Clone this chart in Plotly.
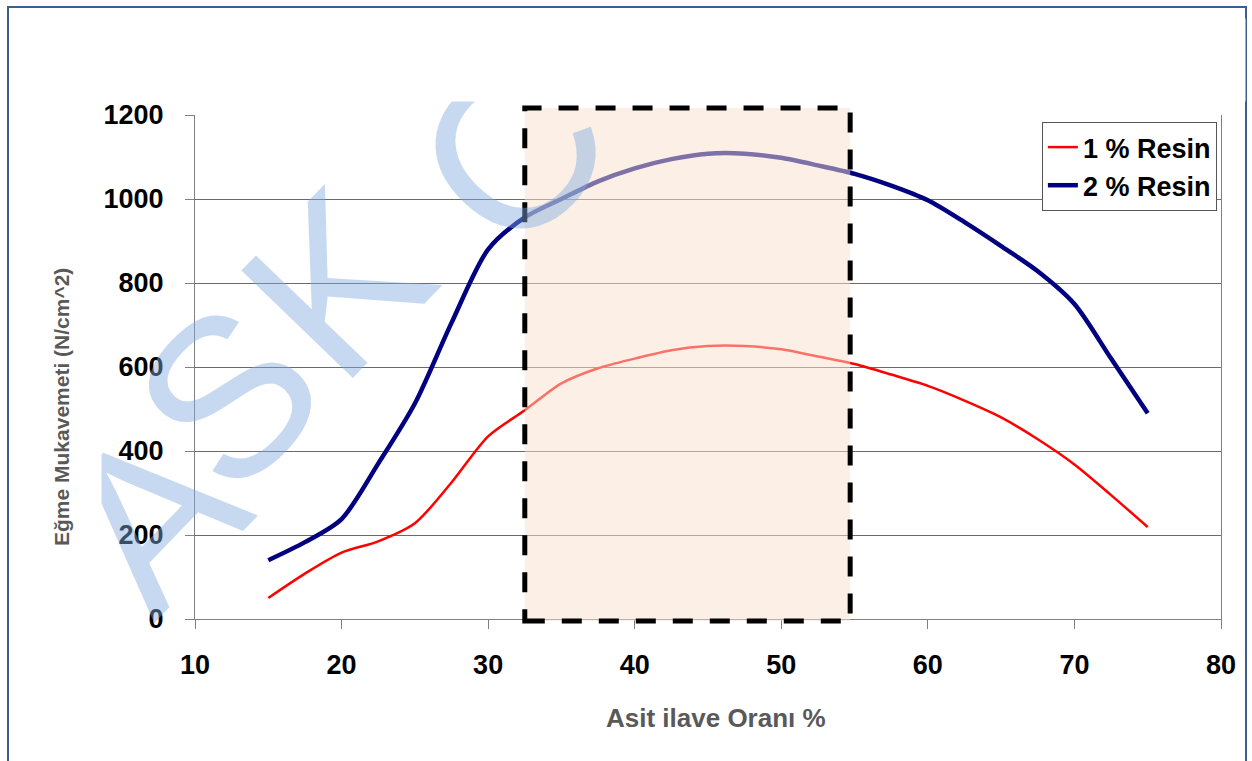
import plotly.graph_objects as go

# ---- data ----
acid_pct = [15, 17.5, 20, 22.5, 25, 27.5, 30, 32.5, 35, 37.5, 40, 42.5, 45,
            47.5, 50, 52.5, 55, 57.5, 60, 62.5, 65, 67.5, 70, 72.5, 75]
resin_1 = [50, 108, 158, 185, 228, 325, 435, 497, 561, 597, 620, 640, 650,
           650, 642, 625, 607, 582, 555, 520, 480, 428, 368, 295, 219]
resin_2 = [140, 183, 238, 370, 513, 705, 880, 956, 1000, 1042, 1073, 1095, 1108,
           1108, 1098, 1080, 1060, 1032, 997, 945, 888, 828, 750, 620, 490]
series_names = ["1 % Resin", "2 % Resin"]
x_ticks = [10, 20, 30, 40, 50, 60, 70, 80]
y_ticks = [0, 200, 400, 600, 800, 1000, 1200]
region = [32.5, 54.7]          # highlighted acid range
x_title = "Asit ilave Oranı %"
y_title = "Eğme Mukavemeti (N/cm^2)"
watermark_letters = ["A", "S", "K", "C"]

FONT = "Arial, Liberation Sans, sans-serif"

# plot area in pixels: left 195, right 1221, top 115, bottom 619
PL, PR, PT, PB = 195, 1221, 115, 619


def px_x(p):
    return (p - PL) / (PR - PL)


def px_y(p):
    return (PB - p) / (PB - PT)


fig = go.Figure()
fig.add_trace(go.Scatter(x=acid_pct, y=resin_1, mode="lines",
                         name=f"<b>{series_names[0]}</b>",
                         line=dict(color="#ff0000", width=2.5, shape="spline", smoothing=0.8),
                         legendgroup="a"))
fig.add_trace(go.Scatter(x=acid_pct, y=resin_2, mode="lines",
                         name=f"<b>{series_names[1]}</b>",
                         line=dict(color="#000080", width=4.5, shape="spline", smoothing=0.8),
                         legendgroup="b"))

# highlighted region (translucent, over the lines)
fig.add_shape(type="rect", xref="x", yref="paper", x0=region[0], x1=region[1],
              y0=px_y(621), y1=px_y(108), layer="above",
              fillcolor="rgba(250,226,206,0.5)",
              line=dict(color="black", width=5, dash="20px,17px"))

# outer frame
fig.add_shape(type="rect", xref="paper", yref="paper",
              x0=px_x(8), x1=px_x(1246), y0=px_y(800), y1=px_y(7),
              line=dict(color="#3a5f90", width=2), fillcolor="rgba(0,0,0,0)", layer="below")

# watermark letters (rotated), placed along a diagonal
wm_pos = [(150, 515), (228, 396), (336, 283), (512, 152)]
for letter, (cx, cy) in zip(watermark_letters, wm_pos):
    fig.add_annotation(text=letter, xref="paper", yref="paper", x=px_x(cx), y=px_y(cy),
                       xanchor="center", yanchor="middle",
                       showarrow=False, textangle=-46,
                       font=dict(family=FONT, size=225, color="rgba(128,171,222,0.45)"))
# watermark is cropped to the inner picture area (white masks on the left and top)
fig.add_annotation(text=" ", xref="paper", yref="paper", x=px_x(10), y=px_y(18),
                   xanchor="left", yanchor="top", width=90, height=742,
                   bgcolor="white", borderpad=0, showarrow=False)
fig.add_annotation(text=" ", xref="paper", yref="paper", x=px_x(10), y=px_y(18),
                   xanchor="left", yanchor="top", width=1234, height=82,
                   bgcolor="white", borderpad=0, showarrow=False)

# axis titles
fig.add_annotation(text=f"<b>{x_title}</b>", xref="paper", yref="paper",
                   x=px_x(716), y=px_y(718), xanchor="center", yanchor="middle", showarrow=False,
                   font=dict(family=FONT, size=26, color="#595959"))
fig.add_annotation(text=f"<b>{y_title}</b>", xref="paper", yref="paper",
                   x=px_x(62), y=px_y(407), xanchor="center", yanchor="middle",
                   showarrow=False, textangle=-90,
                   font=dict(family=FONT, size=21, color="#595959"))

fig.update_xaxes(range=[10, 80], tickvals=x_ticks,
                 ticktext=[f"<b>{v}</b>" for v in x_ticks],
                 showgrid=False, zeroline=False,
                 showline=True, linecolor="#808080", linewidth=1,
                 ticks="outside", ticklen=9, tickcolor="#808080",
                 ticklabelstandoff=13,
                 tickfont=dict(family=FONT, size=27, color="black"))
fig.update_yaxes(range=[0, 1200], tickvals=y_ticks,
                 ticktext=[f"<b>{v}</b>" for v in y_ticks],
                 showgrid=True, gridcolor="#6a6a6a", gridwidth=1, zeroline=False,
                 showline=True, mirror=True, linecolor="#808080", linewidth=1,
                 ticks="outside", ticklen=9, tickcolor="#808080",
                 ticklabelstandoff=16,
                 tickfont=dict(family=FONT, size=27, color="black"))

fig.update_layout(
    width=1252, height=761,
    margin=dict(l=PL, r=1252 - PR, t=PT, b=761 - PB),
    paper_bgcolor="white", plot_bgcolor="white",
    font=dict(family=FONT),
    showlegend=True,
    legend=dict(x=0.996, y=0.986, xanchor="right", yanchor="top",
                bgcolor="white", bordercolor="#555555", borderwidth=1,
                tracegroupgap=0,
                font=dict(family=FONT, size=27, color="black"),
                itemwidth=30),
)

fig.write_html("out.html")
